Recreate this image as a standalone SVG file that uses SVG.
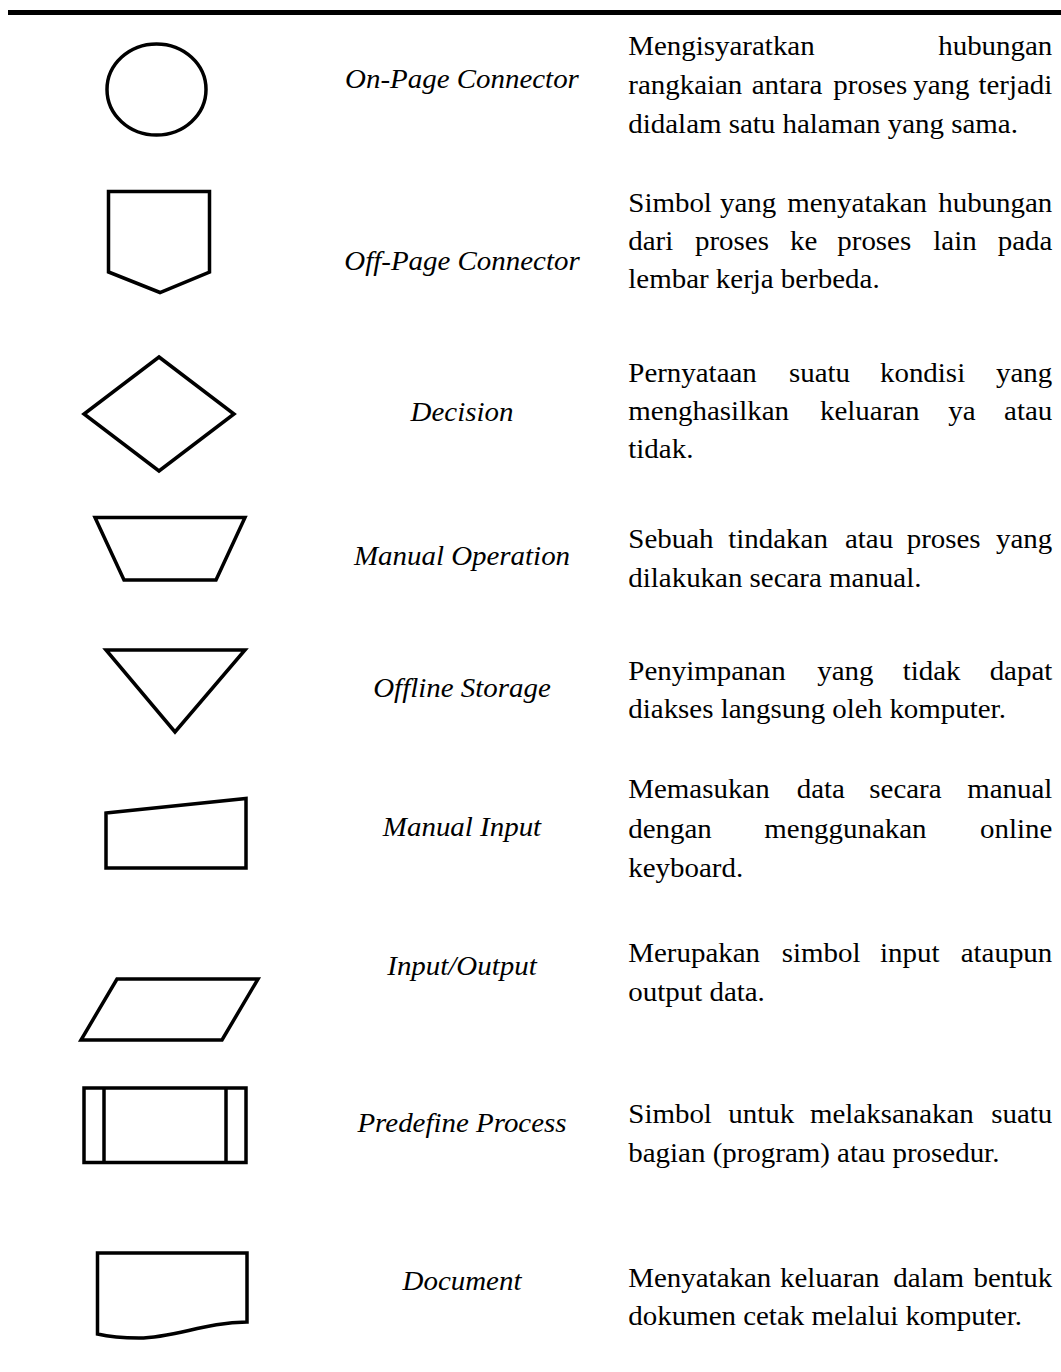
<svg xmlns="http://www.w3.org/2000/svg" width="1061" height="1372" viewBox="0 0 1061 1372">
  <style>
    .sym { fill: none; stroke: #000; stroke-width: 3.5; stroke-linejoin: miter; }
    .name { font-family: "Liberation Serif", "Times New Roman", serif; font-style: italic; font-size: 26.8px; fill: #000; text-anchor: middle; }
    .desc { font-family: "Liberation Serif", "Times New Roman", serif; font-size: 26.8px; fill: #000; }
    .end { text-anchor: end; }
  </style>
  <rect width="1061" height="1372" fill="#fff"/>
  <!-- table top rule -->
  <line x1="8" y1="12.5" x2="1061" y2="12.5" stroke="#000" stroke-width="4.8"/>

  <!-- text is set slightly wide: x values are divided by the 1.08 horizontal scale -->
  <g id="on-page-connector">
    <ellipse class="sym" cx="156.5" cy="89.5" rx="49.5" ry="45.5"/>
    <g transform="scale(1.08 1)">
      <text class="name" x="427.78" y="88.3">On-Page Connector</text>
      <text class="desc" y="55"><tspan x="581.76">Mengisyaratkan</tspan><tspan class="end" x="974.35">hubungan</tspan></text>
      <text class="desc" y="94"><tspan x="581.76">rangkaian</tspan><tspan x="696.02">antara</tspan><tspan x="771.57">proses</tspan><tspan x="845.65">yang</tspan><tspan class="end" x="974.35">terjadi</tspan></text>
      <text class="desc" x="581.76" y="133.3">didalam satu halaman yang sama.</text>
    </g>
  </g>

  <g id="off-page-connector">
    <polygon class="sym" points="108.5,191.5 209.5,191.5 209.5,272 160,292.5 108.5,272"/>
    <g transform="scale(1.08 1)">
      <text class="name" x="427.78" y="270">Off-Page Connector</text>
      <text class="desc" y="211.7"><tspan x="581.76">Simbol</tspan><tspan x="666.67">yang</tspan><tspan x="728.98">menyatakan</tspan><tspan class="end" x="974.35">hubungan</tspan></text>
      <text class="desc" y="250"><tspan x="581.76">dari</tspan><tspan x="643.52">proses</tspan><tspan x="731.48">ke</tspan><tspan x="775.28">proses</tspan><tspan x="864.17">lain</tspan><tspan class="end" x="974.35">pada</tspan></text>
      <text class="desc" x="581.76" y="288.3">lembar kerja berbeda.</text>
    </g>
  </g>

  <g id="decision">
    <polygon class="sym" points="159,357 234,414 159,471 84,414"/>
    <g transform="scale(1.08 1)">
      <text class="name" x="427.78" y="420.7">Decision</text>
      <text class="desc" y="381.7"><tspan x="581.76">Pernyataan</tspan><tspan x="730.56">suatu</tspan><tspan x="814.81">kondisi</tspan><tspan class="end" x="974.35">yang</tspan></text>
      <text class="desc" y="420"><tspan x="581.76">menghasilkan</tspan><tspan x="759.26">keluaran</tspan><tspan x="878.06">ya</tspan><tspan class="end" x="974.35">atau</tspan></text>
      <text class="desc" x="581.76" y="458.3">tidak.</text>
    </g>
  </g>

  <g id="manual-operation">
    <polygon class="sym" points="95,517.5 245,517.5 216,580 124,580"/>
    <g transform="scale(1.08 1)">
      <text class="name" x="427.78" y="565">Manual Operation</text>
      <text class="desc" y="548.3"><tspan x="581.76">Sebuah</tspan><tspan x="674.35">tindakan</tspan><tspan x="782.41">atau</tspan><tspan x="839.54">proses</tspan><tspan class="end" x="974.35">yang</tspan></text>
      <text class="desc" x="581.76" y="586.7">dilakukan secara manual.</text>
    </g>
  </g>

  <g id="offline-storage">
    <polygon class="sym" points="106,650 245,650 175,732"/>
    <g transform="scale(1.08 1)">
      <text class="name" x="427.78" y="696.7">Offline Storage</text>
      <text class="desc" y="680"><tspan x="581.76">Penyimpanan</tspan><tspan x="756.76">yang</tspan><tspan x="835.83">tidak</tspan><tspan class="end" x="974.35">dapat</tspan></text>
      <text class="desc" x="581.76" y="718.3">diakses langsung oleh komputer.</text>
    </g>
  </g>

  <g id="manual-input">
    <polygon class="sym" points="106,813 246,798.5 246,868 106,868"/>
    <g transform="scale(1.08 1)">
      <text class="name" x="427.78" y="836">Manual Input</text>
      <text class="desc" y="798.3"><tspan x="581.76">Memasukan</tspan><tspan x="737.69">data</tspan><tspan x="804.91">secara</tspan><tspan class="end" x="974.35">manual</tspan></text>
      <text class="desc" y="838.3"><tspan x="581.76">dengan</tspan><tspan x="707.69">menggunakan</tspan><tspan class="end" x="974.35">online</tspan></text>
      <text class="desc" x="581.76" y="876.7">keyboard.</text>
    </g>
  </g>

  <g id="input-output">
    <polygon class="sym" points="117,979 258,979 222,1040 81,1040"/>
    <g transform="scale(1.08 1)">
      <text class="name" x="427.78" y="975">Input/Output</text>
      <text class="desc" y="961.7"><tspan x="581.76">Merupakan</tspan><tspan x="723.8">simbol</tspan><tspan x="814.81">input</tspan><tspan class="end" x="974.35">ataupun</tspan></text>
      <text class="desc" x="581.76" y="1000.7">output data.</text>
    </g>
  </g>

  <g id="predefine-process">
    <rect class="sym" x="84" y="1088" width="162" height="74.5"/>
    <line class="sym" x1="104" y1="1088" x2="104" y2="1162.5"/>
    <line class="sym" x1="226" y1="1088" x2="226" y2="1162.5"/>
    <g transform="scale(1.08 1)">
      <text class="name" x="427.78" y="1131.7">Predefine Process</text>
      <text class="desc" y="1122.7"><tspan x="581.76">Simbol</tspan><tspan x="674.35">untuk</tspan><tspan x="750">melaksanakan</tspan><tspan class="end" x="974.35">suatu</tspan></text>
      <text class="desc" x="581.76" y="1161.7">bagian (program) atau prosedur.</text>
    </g>
  </g>

  <g id="document">
    <path class="sym" d="M97.5,1334 V1253 H247 V1322 C205,1322 175,1338 139,1338 C120,1338 108,1336.5 97.5,1334 Z"/>
    <g transform="scale(1.08 1)">
      <text class="name" x="427.78" y="1290">Document</text>
      <text class="desc" y="1286.7"><tspan x="581.76">Menyatakan</tspan><tspan x="722.22">keluaran</tspan><tspan x="827.13">dalam</tspan><tspan class="end" x="974.35">bentuk</tspan></text>
      <text class="desc" x="581.76" y="1325">dokumen cetak melalui komputer.</text>
    </g>
  </g>
</svg>
